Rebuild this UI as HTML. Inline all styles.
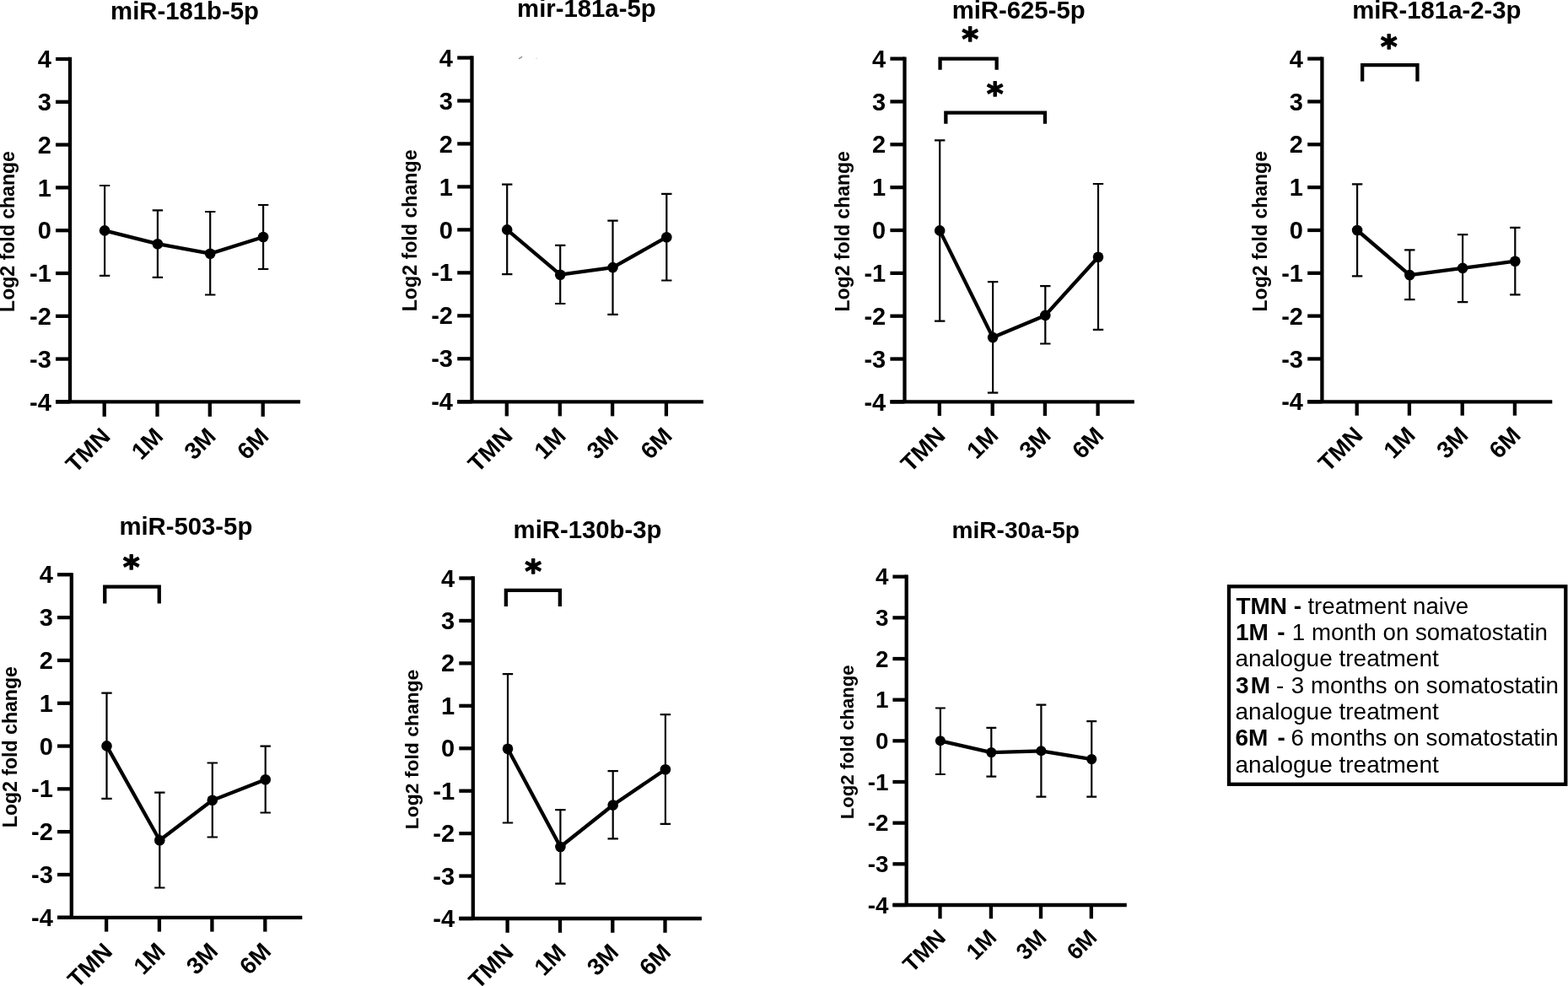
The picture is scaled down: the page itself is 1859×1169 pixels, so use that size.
<!DOCTYPE html>
<html><head><meta charset="utf-8"><title>miRNA expression</title>
<style>
html,body{margin:0;padding:0;background:#fff;}
body{width:1859px;height:1169px;overflow:hidden;}
svg{display:block;}
text{font-family:"Liberation Sans",Arial,sans-serif;fill:#000;}
.a{stroke:#000;stroke-width:4.3;stroke-linecap:butt;fill:none;}
.e{stroke:#000;stroke-width:2.2;fill:none;}
.d{stroke:#000;stroke-width:4.3;fill:none;stroke-linejoin:round;}
.b{stroke:#000;stroke-width:4.3;fill:none;stroke-linejoin:miter;}
.tk{font-size:29px;font-weight:bold;}
.xl{font-size:28px;font-weight:bold;}
.ti{font-size:29.3px;font-weight:bold;}
.yl{font-size:23.2px;font-weight:bold;}
.st{font-family:"DejaVu Sans",sans-serif;font-size:38px;font-weight:bold;stroke:#000;stroke-width:1.3px;stroke-linejoin:round;}
.lg{font-size:27.7px;}
.lb{font-weight:bold;font-size:28px;}
</style></head>
<body>
<svg width="1859" height="1169" viewBox="0 0 1859 1169">
<rect width="1859" height="1169" fill="#fff"/>
<g>
<line x1="83" y1="67.85" x2="83" y2="476.4" class="a"/>
<line x1="66" y1="70" x2="83" y2="70" class="a"/>
<text x="60.8" y="80.1" class="tk" text-anchor="end">4</text>
<line x1="66" y1="120.8" x2="83" y2="120.8" class="a"/>
<text x="60.8" y="130.9" class="tk" text-anchor="end">3</text>
<line x1="66" y1="171.6" x2="83" y2="171.6" class="a"/>
<text x="60.8" y="181.7" class="tk" text-anchor="end">2</text>
<line x1="66" y1="222.4" x2="83" y2="222.4" class="a"/>
<text x="60.8" y="232.5" class="tk" text-anchor="end">1</text>
<line x1="66" y1="273.2" x2="83" y2="273.2" class="a"/>
<text x="60.8" y="283.3" class="tk" text-anchor="end">0</text>
<line x1="66" y1="324" x2="83" y2="324" class="a"/>
<text x="60.8" y="334.1" class="tk" text-anchor="end">-1</text>
<line x1="66" y1="374.8" x2="83" y2="374.8" class="a"/>
<text x="60.8" y="384.9" class="tk" text-anchor="end">-2</text>
<line x1="66" y1="425.6" x2="83" y2="425.6" class="a"/>
<text x="60.8" y="435.7" class="tk" text-anchor="end">-3</text>
<line x1="66" y1="476.4" x2="83" y2="476.4" class="a"/>
<text x="60.8" y="486.5" class="tk" text-anchor="end">-4</text>
<line x1="66" y1="476.4" x2="356" y2="476.4" class="a"/>
<line x1="123.7" y1="476.4" x2="123.7" y2="493.9" class="a"/>
<text transform="translate(132.3 518.9) rotate(-45)" class="xl" text-anchor="end">TMN</text>
<line x1="186.5" y1="476.4" x2="186.5" y2="493.9" class="a"/>
<text transform="translate(195.1 518.9) rotate(-45)" class="xl" text-anchor="end">1M</text>
<line x1="248.8" y1="476.4" x2="248.8" y2="493.9" class="a"/>
<text transform="translate(257.4 518.9) rotate(-45)" class="xl" text-anchor="end">3M</text>
<line x1="311.7" y1="476.4" x2="311.7" y2="493.9" class="a"/>
<text transform="translate(320.3 518.9) rotate(-45)" class="xl" text-anchor="end">6M</text>
<path d="M124.1 220V326.8M117.9 220H130.3M117.9 326.8H130.3" class="e"/>
<path d="M186.9 249.4V328.8M180.7 249.4H193.1M180.7 328.8H193.1" class="e"/>
<path d="M249.2 251V349.5M243 251H255.4M243 349.5H255.4" class="e"/>
<path d="M312.1 243V319M305.9 243H318.3M305.9 319H318.3" class="e"/>
<polyline points="124.1,273.4 186.9,289.2 249.2,300.7 312.1,281" class="d"/>
<circle cx="124.1" cy="273.4" r="6.3"/>
<circle cx="186.9" cy="289.2" r="6.3"/>
<circle cx="249.2" cy="300.7" r="6.3"/>
<circle cx="312.1" cy="281" r="6.3"/>
<text x="219" y="22.6" class="ti" text-anchor="middle">miR-181b-5p</text>
<text transform="translate(17.2 274.53) rotate(-90)" class="yl" text-anchor="middle" style="font-size:23.05px">Log2 fold change</text>
</g>
<g>
<line x1="559.5" y1="66.35" x2="559.5" y2="476.3" class="a"/>
<line x1="542.2" y1="68.5" x2="559.5" y2="68.5" class="a"/>
<text x="537" y="78.6" class="tk" text-anchor="end">4</text>
<line x1="542.2" y1="119.47" x2="559.5" y2="119.47" class="a"/>
<text x="537" y="129.57" class="tk" text-anchor="end">3</text>
<line x1="542.2" y1="170.45" x2="559.5" y2="170.45" class="a"/>
<text x="537" y="180.55" class="tk" text-anchor="end">2</text>
<line x1="542.2" y1="221.43" x2="559.5" y2="221.43" class="a"/>
<text x="537" y="231.53" class="tk" text-anchor="end">1</text>
<line x1="542.2" y1="272.4" x2="559.5" y2="272.4" class="a"/>
<text x="537" y="282.5" class="tk" text-anchor="end">0</text>
<line x1="542.2" y1="323.38" x2="559.5" y2="323.38" class="a"/>
<text x="537" y="333.48" class="tk" text-anchor="end">-1</text>
<line x1="542.2" y1="374.35" x2="559.5" y2="374.35" class="a"/>
<text x="537" y="384.45" class="tk" text-anchor="end">-2</text>
<line x1="542.2" y1="425.32" x2="559.5" y2="425.32" class="a"/>
<text x="537" y="435.43" class="tk" text-anchor="end">-3</text>
<line x1="542.2" y1="476.3" x2="559.5" y2="476.3" class="a"/>
<text x="537" y="486.4" class="tk" text-anchor="end">-4</text>
<line x1="542.2" y1="476.3" x2="833.9" y2="476.3" class="a"/>
<line x1="600.8" y1="476.3" x2="600.8" y2="493.4" class="a"/>
<text transform="translate(609.4 518.4) rotate(-45)" class="xl" text-anchor="end">TMN</text>
<line x1="663.8" y1="476.3" x2="663.8" y2="493.4" class="a"/>
<text transform="translate(672.4 518.4) rotate(-45)" class="xl" text-anchor="end">1M</text>
<line x1="726.1" y1="476.3" x2="726.1" y2="493.4" class="a"/>
<text transform="translate(734.7 518.4) rotate(-45)" class="xl" text-anchor="end">3M</text>
<line x1="789.9" y1="476.3" x2="789.9" y2="493.4" class="a"/>
<text transform="translate(798.5 518.4) rotate(-45)" class="xl" text-anchor="end">6M</text>
<path d="M601.2 218.6V325.1M595 218.6H607.4M595 325.1H607.4" class="e"/>
<path d="M664.2 290.8V360M658 290.8H670.4M658 360H670.4" class="e"/>
<path d="M726.5 261.7V372.9M720.3 261.7H732.7M720.3 372.9H732.7" class="e"/>
<path d="M790.3 229.9V332.5M784.1 229.9H796.5M784.1 332.5H796.5" class="e"/>
<polyline points="601.2,272.4 664.2,325.7 726.5,317.1 790.3,281.2" class="d"/>
<circle cx="601.2" cy="272.4" r="6.3"/>
<circle cx="664.2" cy="325.7" r="6.3"/>
<circle cx="726.5" cy="317.1" r="6.3"/>
<circle cx="790.3" cy="281.2" r="6.3"/>
<text x="695.35" y="20.4" class="ti" text-anchor="middle">mir-181a-5p</text>
<text transform="translate(493.9 273.38) rotate(-90)" class="yl" text-anchor="middle" style="font-size:23.18px">Log2 fold change</text>
</g>
<g>
<line x1="1072.5" y1="67.45" x2="1072.5" y2="476.4" class="a"/>
<line x1="1055.4" y1="69.6" x2="1072.5" y2="69.6" class="a"/>
<text x="1050.2" y="79.7" class="tk" text-anchor="end">4</text>
<line x1="1055.4" y1="120.45" x2="1072.5" y2="120.45" class="a"/>
<text x="1050.2" y="130.55" class="tk" text-anchor="end">3</text>
<line x1="1055.4" y1="171.3" x2="1072.5" y2="171.3" class="a"/>
<text x="1050.2" y="181.4" class="tk" text-anchor="end">2</text>
<line x1="1055.4" y1="222.15" x2="1072.5" y2="222.15" class="a"/>
<text x="1050.2" y="232.25" class="tk" text-anchor="end">1</text>
<line x1="1055.4" y1="273" x2="1072.5" y2="273" class="a"/>
<text x="1050.2" y="283.1" class="tk" text-anchor="end">0</text>
<line x1="1055.4" y1="323.85" x2="1072.5" y2="323.85" class="a"/>
<text x="1050.2" y="333.95" class="tk" text-anchor="end">-1</text>
<line x1="1055.4" y1="374.7" x2="1072.5" y2="374.7" class="a"/>
<text x="1050.2" y="384.8" class="tk" text-anchor="end">-2</text>
<line x1="1055.4" y1="425.55" x2="1072.5" y2="425.55" class="a"/>
<text x="1050.2" y="435.65" class="tk" text-anchor="end">-3</text>
<line x1="1055.4" y1="476.4" x2="1072.5" y2="476.4" class="a"/>
<text x="1050.2" y="486.5" class="tk" text-anchor="end">-4</text>
<line x1="1055.4" y1="476.4" x2="1344.8" y2="476.4" class="a"/>
<line x1="1113.8" y1="476.4" x2="1113.8" y2="493" class="a"/>
<text transform="translate(1122.4 518) rotate(-45)" class="xl" text-anchor="end">TMN</text>
<line x1="1176.7" y1="476.4" x2="1176.7" y2="493" class="a"/>
<text transform="translate(1185.3 518) rotate(-45)" class="xl" text-anchor="end">1M</text>
<line x1="1238.9" y1="476.4" x2="1238.9" y2="493" class="a"/>
<text transform="translate(1247.5 518) rotate(-45)" class="xl" text-anchor="end">3M</text>
<line x1="1301.6" y1="476.4" x2="1301.6" y2="493" class="a"/>
<text transform="translate(1310.2 518) rotate(-45)" class="xl" text-anchor="end">6M</text>
<path d="M1114.2 166.4V380.7M1108 166.4H1120.4M1108 380.7H1120.4" class="e"/>
<path d="M1177.1 334.1V465.6M1170.9 334.1H1183.3M1170.9 465.6H1183.3" class="e"/>
<path d="M1239.3 339.2V407.5M1233.1 339.2H1245.5M1233.1 407.5H1245.5" class="e"/>
<path d="M1302 218V390.8M1295.8 218H1308.2M1295.8 390.8H1308.2" class="e"/>
<polyline points="1114.2,273.4 1177.1,400.1 1239.3,373.9 1302,304.7" class="d"/>
<circle cx="1114.2" cy="273.4" r="6.3"/>
<circle cx="1177.1" cy="400.1" r="6.3"/>
<circle cx="1239.3" cy="373.9" r="6.3"/>
<circle cx="1302" cy="304.7" r="6.3"/>
<text x="1207.65" y="22.2" class="ti" text-anchor="middle">miR-625-5p</text>
<text transform="translate(1006.9 274.33) rotate(-90)" class="yl" text-anchor="middle" style="font-size:23px">Log2 fold change</text>
<path d="M1114.55 82.7V69.6H1181.65V82.7" class="b"/>
<text x="1150.3" y="59.4" class="st" text-anchor="middle">*</text>
<path d="M1121.35 146.8V133.6H1238.95V146.8" class="b"/>
<text x="1179.6" y="124" class="st" text-anchor="middle">*</text>
</g>
<g>
<line x1="1567.4" y1="67.45" x2="1567.4" y2="476.3" class="a"/>
<line x1="1550.2" y1="69.6" x2="1567.4" y2="69.6" class="a"/>
<text x="1545" y="79.7" class="tk" text-anchor="end">4</text>
<line x1="1550.2" y1="120.44" x2="1567.4" y2="120.44" class="a"/>
<text x="1545" y="130.54" class="tk" text-anchor="end">3</text>
<line x1="1550.2" y1="171.28" x2="1567.4" y2="171.28" class="a"/>
<text x="1545" y="181.38" class="tk" text-anchor="end">2</text>
<line x1="1550.2" y1="222.11" x2="1567.4" y2="222.11" class="a"/>
<text x="1545" y="232.21" class="tk" text-anchor="end">1</text>
<line x1="1550.2" y1="272.95" x2="1567.4" y2="272.95" class="a"/>
<text x="1545" y="283.05" class="tk" text-anchor="end">0</text>
<line x1="1550.2" y1="323.79" x2="1567.4" y2="323.79" class="a"/>
<text x="1545" y="333.89" class="tk" text-anchor="end">-1</text>
<line x1="1550.2" y1="374.62" x2="1567.4" y2="374.62" class="a"/>
<text x="1545" y="384.73" class="tk" text-anchor="end">-2</text>
<line x1="1550.2" y1="425.46" x2="1567.4" y2="425.46" class="a"/>
<text x="1545" y="435.56" class="tk" text-anchor="end">-3</text>
<line x1="1550.2" y1="476.3" x2="1567.4" y2="476.3" class="a"/>
<text x="1545" y="486.4" class="tk" text-anchor="end">-4</text>
<line x1="1550.2" y1="476.3" x2="1840.3" y2="476.3" class="a"/>
<line x1="1608.7" y1="476.3" x2="1608.7" y2="492.7" class="a"/>
<text transform="translate(1617.3 517.7) rotate(-45)" class="xl" text-anchor="end">TMN</text>
<line x1="1670.9" y1="476.3" x2="1670.9" y2="492.7" class="a"/>
<text transform="translate(1679.5 517.7) rotate(-45)" class="xl" text-anchor="end">1M</text>
<line x1="1733.7" y1="476.3" x2="1733.7" y2="492.7" class="a"/>
<text transform="translate(1742.3 517.7) rotate(-45)" class="xl" text-anchor="end">3M</text>
<line x1="1795.9" y1="476.3" x2="1795.9" y2="492.7" class="a"/>
<text transform="translate(1804.5 517.7) rotate(-45)" class="xl" text-anchor="end">6M</text>
<path d="M1609.1 218.4V327.4M1602.9 218.4H1615.3M1602.9 327.4H1615.3" class="e"/>
<path d="M1671.3 296.4V355.1M1665.1 296.4H1677.5M1665.1 355.1H1677.5" class="e"/>
<path d="M1734.1 278.1V358.2M1727.9 278.1H1740.3M1727.9 358.2H1740.3" class="e"/>
<path d="M1796.3 269.9V349.3M1790.1 269.9H1802.5M1790.1 349.3H1802.5" class="e"/>
<polyline points="1609.1,273 1671.3,326.1 1734.1,317.9 1796.3,309.7" class="d"/>
<circle cx="1609.1" cy="273" r="6.3"/>
<circle cx="1671.3" cy="326.1" r="6.3"/>
<circle cx="1734.1" cy="317.9" r="6.3"/>
<circle cx="1796.3" cy="309.7" r="6.3"/>
<text x="1703.3" y="22.2" class="ti" text-anchor="middle">miR-181a-2-3p</text>
<text transform="translate(1501.8 274.28) rotate(-90)" class="yl" text-anchor="middle" style="font-size:23.01px">Log2 fold change</text>
<path d="M1615.15 96.5V77.2H1680.45V96.5" class="b"/>
<text x="1646.6" y="67.5" class="st" text-anchor="middle">*</text>
</g>
<g>
<line x1="84.8" y1="679.15" x2="84.8" y2="1087.8" class="a"/>
<line x1="68" y1="681.3" x2="84.8" y2="681.3" class="a"/>
<text x="62.8" y="691.4" class="tk" text-anchor="end">4</text>
<line x1="68" y1="732.11" x2="84.8" y2="732.11" class="a"/>
<text x="62.8" y="742.21" class="tk" text-anchor="end">3</text>
<line x1="68" y1="782.92" x2="84.8" y2="782.92" class="a"/>
<text x="62.8" y="793.02" class="tk" text-anchor="end">2</text>
<line x1="68" y1="833.74" x2="84.8" y2="833.74" class="a"/>
<text x="62.8" y="843.84" class="tk" text-anchor="end">1</text>
<line x1="68" y1="884.55" x2="84.8" y2="884.55" class="a"/>
<text x="62.8" y="894.65" class="tk" text-anchor="end">0</text>
<line x1="68" y1="935.36" x2="84.8" y2="935.36" class="a"/>
<text x="62.8" y="945.46" class="tk" text-anchor="end">-1</text>
<line x1="68" y1="986.17" x2="84.8" y2="986.17" class="a"/>
<text x="62.8" y="996.27" class="tk" text-anchor="end">-2</text>
<line x1="68" y1="1036.99" x2="84.8" y2="1036.99" class="a"/>
<text x="62.8" y="1047.09" class="tk" text-anchor="end">-3</text>
<line x1="68" y1="1087.8" x2="84.8" y2="1087.8" class="a"/>
<text x="62.8" y="1097.9" class="tk" text-anchor="end">-4</text>
<line x1="68" y1="1087.8" x2="358.3" y2="1087.8" class="a"/>
<line x1="126.1" y1="1087.8" x2="126.1" y2="1104.6" class="a"/>
<text transform="translate(134.7 1129.6) rotate(-45)" class="xl" text-anchor="end">TMN</text>
<line x1="188.9" y1="1087.8" x2="188.9" y2="1104.6" class="a"/>
<text transform="translate(197.5 1129.6) rotate(-45)" class="xl" text-anchor="end">1M</text>
<line x1="251.4" y1="1087.8" x2="251.4" y2="1104.6" class="a"/>
<text transform="translate(260 1129.6) rotate(-45)" class="xl" text-anchor="end">3M</text>
<line x1="314.3" y1="1087.8" x2="314.3" y2="1104.6" class="a"/>
<text transform="translate(322.9 1129.6) rotate(-45)" class="xl" text-anchor="end">6M</text>
<path d="M126.5 821.6V946.8M120.3 821.6H132.7M120.3 946.8H132.7" class="e"/>
<path d="M189.3 939.6V1052.5M183.1 939.6H195.5M183.1 1052.5H195.5" class="e"/>
<path d="M251.8 904.5V992.5M245.6 904.5H258M245.6 992.5H258" class="e"/>
<path d="M314.7 884.7V963.5M308.5 884.7H320.9M308.5 963.5H320.9" class="e"/>
<polyline points="126.5,884.4 189.3,996.3 251.8,948.8 314.7,924.2" class="d"/>
<circle cx="126.5" cy="884.4" r="6.3"/>
<circle cx="189.3" cy="996.3" r="6.3"/>
<circle cx="251.8" cy="948.8" r="6.3"/>
<circle cx="314.7" cy="924.2" r="6.3"/>
<text x="220.35" y="633.9" class="ti" text-anchor="middle">miR-503-5p</text>
<text transform="translate(19.8 885.68) rotate(-90)" class="yl" text-anchor="middle" style="font-size:23.08px">Log2 fold change</text>
<path d="M124.25 715.6V695.7H188.75V715.6" class="b"/>
<text x="155.7" y="685" class="st" text-anchor="middle">*</text>
</g>
<g>
<line x1="560.8" y1="683.35" x2="560.8" y2="1089" class="a"/>
<line x1="544.3" y1="685.5" x2="560.8" y2="685.5" class="a"/>
<text x="539.1" y="695.6" class="tk" text-anchor="end">4</text>
<line x1="544.3" y1="735.94" x2="560.8" y2="735.94" class="a"/>
<text x="539.1" y="746.04" class="tk" text-anchor="end">3</text>
<line x1="544.3" y1="786.38" x2="560.8" y2="786.38" class="a"/>
<text x="539.1" y="796.48" class="tk" text-anchor="end">2</text>
<line x1="544.3" y1="836.81" x2="560.8" y2="836.81" class="a"/>
<text x="539.1" y="846.91" class="tk" text-anchor="end">1</text>
<line x1="544.3" y1="887.25" x2="560.8" y2="887.25" class="a"/>
<text x="539.1" y="897.35" class="tk" text-anchor="end">0</text>
<line x1="544.3" y1="937.69" x2="560.8" y2="937.69" class="a"/>
<text x="539.1" y="947.79" class="tk" text-anchor="end">-1</text>
<line x1="544.3" y1="988.12" x2="560.8" y2="988.12" class="a"/>
<text x="539.1" y="998.23" class="tk" text-anchor="end">-2</text>
<line x1="544.3" y1="1038.56" x2="560.8" y2="1038.56" class="a"/>
<text x="539.1" y="1048.66" class="tk" text-anchor="end">-3</text>
<line x1="544.3" y1="1089" x2="560.8" y2="1089" class="a"/>
<text x="539.1" y="1099.1" class="tk" text-anchor="end">-4</text>
<line x1="544.3" y1="1089" x2="831.9" y2="1089" class="a"/>
<line x1="601.6" y1="1089" x2="601.6" y2="1105.8" class="a"/>
<text transform="translate(610.2 1130.8) rotate(-45)" class="xl" text-anchor="end">TMN</text>
<line x1="664" y1="1089" x2="664" y2="1105.8" class="a"/>
<text transform="translate(672.6 1130.8) rotate(-45)" class="xl" text-anchor="end">1M</text>
<line x1="726.3" y1="1089" x2="726.3" y2="1105.8" class="a"/>
<text transform="translate(734.9 1130.8) rotate(-45)" class="xl" text-anchor="end">3M</text>
<line x1="788.5" y1="1089" x2="788.5" y2="1105.8" class="a"/>
<text transform="translate(797.1 1130.8) rotate(-45)" class="xl" text-anchor="end">6M</text>
<path d="M602 799.2V975.5M595.8 799.2H608.2M595.8 975.5H608.2" class="e"/>
<path d="M664.4 960.1V1047.6M658.2 960.1H670.6M658.2 1047.6H670.6" class="e"/>
<path d="M726.7 914.2V994.3M720.5 914.2H732.9M720.5 994.3H732.9" class="e"/>
<path d="M788.9 847.2V976.8M782.7 847.2H795.1M782.7 976.8H795.1" class="e"/>
<polyline points="602,887.8 664.4,1004 726.7,954.5 788.9,912.2" class="d"/>
<circle cx="602" cy="887.8" r="6.3"/>
<circle cx="664.4" cy="1004" r="6.3"/>
<circle cx="726.7" cy="954.5" r="6.3"/>
<circle cx="788.9" cy="912.2" r="6.3"/>
<text x="696.5" y="638" class="ti" text-anchor="middle">miR-130b-3p</text>
<text transform="translate(495.9 888.43) rotate(-90)" class="yl" text-anchor="middle" style="font-size:22.9px">Log2 fold change</text>
<path d="M599.85 719V699.8H663.85V719" class="b"/>
<text x="632.1" y="689.6" class="st" text-anchor="middle">*</text>
</g>
<g>
<line x1="1074.7" y1="681.55" x2="1074.7" y2="1073" class="a"/>
<line x1="1058.4" y1="683.7" x2="1074.7" y2="683.7" class="a"/>
<text x="1053.41" y="693.4" class="tk" text-anchor="end" style="font-size:27.84px">4</text>
<line x1="1058.4" y1="732.36" x2="1074.7" y2="732.36" class="a"/>
<text x="1053.41" y="742.06" class="tk" text-anchor="end" style="font-size:27.84px">3</text>
<line x1="1058.4" y1="781.03" x2="1074.7" y2="781.03" class="a"/>
<text x="1053.41" y="790.72" class="tk" text-anchor="end" style="font-size:27.84px">2</text>
<line x1="1058.4" y1="829.69" x2="1074.7" y2="829.69" class="a"/>
<text x="1053.41" y="839.38" class="tk" text-anchor="end" style="font-size:27.84px">1</text>
<line x1="1058.4" y1="878.35" x2="1074.7" y2="878.35" class="a"/>
<text x="1053.41" y="888.05" class="tk" text-anchor="end" style="font-size:27.84px">0</text>
<line x1="1058.4" y1="927.01" x2="1074.7" y2="927.01" class="a"/>
<text x="1053.41" y="936.71" class="tk" text-anchor="end" style="font-size:27.84px">-1</text>
<line x1="1058.4" y1="975.67" x2="1074.7" y2="975.67" class="a"/>
<text x="1053.41" y="985.37" class="tk" text-anchor="end" style="font-size:27.84px">-2</text>
<line x1="1058.4" y1="1024.34" x2="1074.7" y2="1024.34" class="a"/>
<text x="1053.41" y="1034.03" class="tk" text-anchor="end" style="font-size:27.84px">-3</text>
<line x1="1058.4" y1="1073" x2="1074.7" y2="1073" class="a"/>
<text x="1053.41" y="1082.7" class="tk" text-anchor="end" style="font-size:27.84px">-4</text>
<line x1="1058.4" y1="1073" x2="1335.8" y2="1073" class="a"/>
<line x1="1114.5" y1="1073" x2="1114.5" y2="1089.2" class="a"/>
<text transform="translate(1122.76 1113.2) rotate(-45)" class="xl" text-anchor="end" style="font-size:26.88px">TMN</text>
<line x1="1174.9" y1="1073" x2="1174.9" y2="1089.2" class="a"/>
<text transform="translate(1183.16 1113.2) rotate(-45)" class="xl" text-anchor="end" style="font-size:26.88px">1M</text>
<line x1="1234" y1="1073" x2="1234" y2="1089.2" class="a"/>
<text transform="translate(1242.26 1113.2) rotate(-45)" class="xl" text-anchor="end" style="font-size:26.88px">3M</text>
<line x1="1293.8" y1="1073" x2="1293.8" y2="1089.2" class="a"/>
<text transform="translate(1302.06 1113.2) rotate(-45)" class="xl" text-anchor="end" style="font-size:26.88px">6M</text>
<path d="M1114.9 839.5V918M1108.95 839.5H1120.85M1108.95 918H1120.85" class="e"/>
<path d="M1175.3 862.9V920.6M1169.35 862.9H1181.25M1169.35 920.6H1181.25" class="e"/>
<path d="M1234.4 835.7V944.7M1228.45 835.7H1240.35M1228.45 944.7H1240.35" class="e"/>
<path d="M1294.2 855.2V944.7M1288.25 855.2H1300.15M1288.25 944.7H1300.15" class="e"/>
<polyline points="1114.9,878.3 1175.3,892.1 1234.4,890.3 1294.2,900.1" class="d"/>
<circle cx="1114.9" cy="878.3" r="6.05"/>
<circle cx="1175.3" cy="892.1" r="6.05"/>
<circle cx="1234.4" cy="890.3" r="6.05"/>
<circle cx="1294.2" cy="900.1" r="6.05"/>
<text x="1204.25" y="638.4" class="ti" text-anchor="middle" style="font-size:28.13px">miR-30a-5p</text>
<text transform="translate(1012.2 879.81) rotate(-90)" class="yl" text-anchor="middle" style="font-size:22.09px">Log2 fold change</text>
</g>
<path d="M615.6 69.3L617.2 68.6L618.6 67.4" stroke="#9a9a9a" stroke-width="1.6" fill="none" stroke-linecap="round"/>
<rect x="635" y="68.8" width="2.2" height="1.2" fill="#ddd"/>
<rect x="1457" y="695.3" width="399.3" height="234.5" fill="none" stroke="#000" stroke-width="4.3"/>
<text class="lg"><tspan class="lb" x="1465.4" y="727.8">TMN</tspan> <tspan class="lb" x="1533.8">-</tspan> <tspan x="1550.4">treatment naive</tspan></text>
<text class="lg"><tspan class="lb" x="1464.9" y="759">1M</tspan> <tspan class="lb" x="1514.3">-</tspan> <tspan x="1531.8">1 month on somatostatin</tspan></text>
<text class="lg" x="1464.5" y="790" style="font-size:28px">analogue treatment</text>
<text class="lg"><tspan class="lb" x="1465" y="821.9" style="letter-spacing:2.2px">3M</tspan> <tspan x="1513">-</tspan> <tspan x="1530.8">3 months on somatostatin</tspan></text>
<text class="lg" x="1464.5" y="853.2" style="font-size:28px">analogue treatment</text>
<text class="lg"><tspan class="lb" x="1464.5" y="884.4">6M</tspan> <tspan class="lb" x="1514.5">-</tspan> <tspan x="1530.5">6 months on somatostatin</tspan></text>
<text class="lg" x="1464.5" y="915.5" style="font-size:28px">analogue treatment</text>
</svg>
</body></html>
